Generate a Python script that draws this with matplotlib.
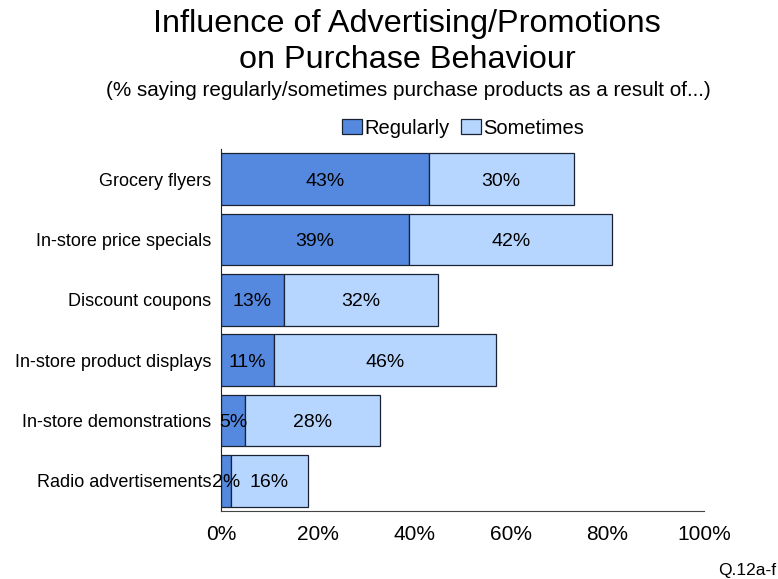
import matplotlib
matplotlib.use("Agg")
import matplotlib.pyplot as plt
from matplotlib.ticker import FuncFormatter

plt.rcParams['font.family'] = ['Liberation Sans', 'DejaVu Sans']

categories = ["Grocery flyers", "In-store price specials", "Discount coupons",
              "In-store product displays", "In-store demonstrations", "Radio advertisements"]
regularly = [43, 39, 13, 11, 5, 2]
sometimes = [30, 42, 32, 46, 28, 16]
series_names = ["Regularly", "Sometimes"]
xticks = [0, 20, 40, 60, 80, 100]

c_reg = "#5589E0"
c_some = "#B6D6FF"
edge = "#1A2233"

fig = plt.figure(figsize=(7.78, 5.79), dpi=100)
ax = fig.add_axes([221/778, 1-511/579, 483/778, 362/579])

y = list(range(len(categories)))
h = 0.86
b1 = ax.barh(y, regularly, height=h, color=c_reg, edgecolor=edge, linewidth=0.9, label=series_names[0])
b2 = ax.barh(y, sometimes, left=regularly, height=h, color=c_some, edgecolor=edge, linewidth=0.9, label=series_names[1])

for yi, r, s in zip(y, regularly, sometimes):
    ax.text(r/2, yi, f"{r}%", ha="center", va="center_baseline", fontsize=14)
    ax.text(r + s/2, yi, f"{s}%", ha="center", va="center_baseline", fontsize=14)

ax.set_ylim(len(categories)-0.5, -0.5)
ax.set_xlim(0, 100)
ax.set_yticks(y)
ax.set_yticklabels(categories, fontsize=13)
ax.set_xticks(xticks)
ax.xaxis.set_major_formatter(FuncFormatter(lambda v, p: f"{int(v)}%"))
ax.tick_params(axis='x', labelsize=15, length=0, pad=10)
ax.tick_params(axis='y', length=0, pad=7)
for s in ["top", "right"]:
    ax.spines[s].set_visible(False)
ax.spines["left"].set_color("#222222")
ax.spines["bottom"].set_color("#444444")

fig.text(407/778, 1-42/579, "Influence of Advertising/Promotions\non Purchase Behaviour",
         ha="center", va="center", fontsize=23.3, linespacing=1.28)
fig.text(408/778, 1-90/579, "(% saying regularly/sometimes purchase products as a result of...)",
         ha="center", va="center", fontsize=14.9)

leg = fig.legend(handles=[b1, b2], labels=series_names, loc="center",
                 bbox_to_anchor=(463/778, 1-128/579), ncol=2, frameon=False,
                 fontsize=14.5, handlelength=1.0, handleheight=0.75, handletextpad=0.1,
                 columnspacing=0.6)

fig.text(776/778, 1-570/579, "Q.12a-f", ha="right", va="center", fontsize=12.5)

fig.savefig("out.png", dpi=100)
